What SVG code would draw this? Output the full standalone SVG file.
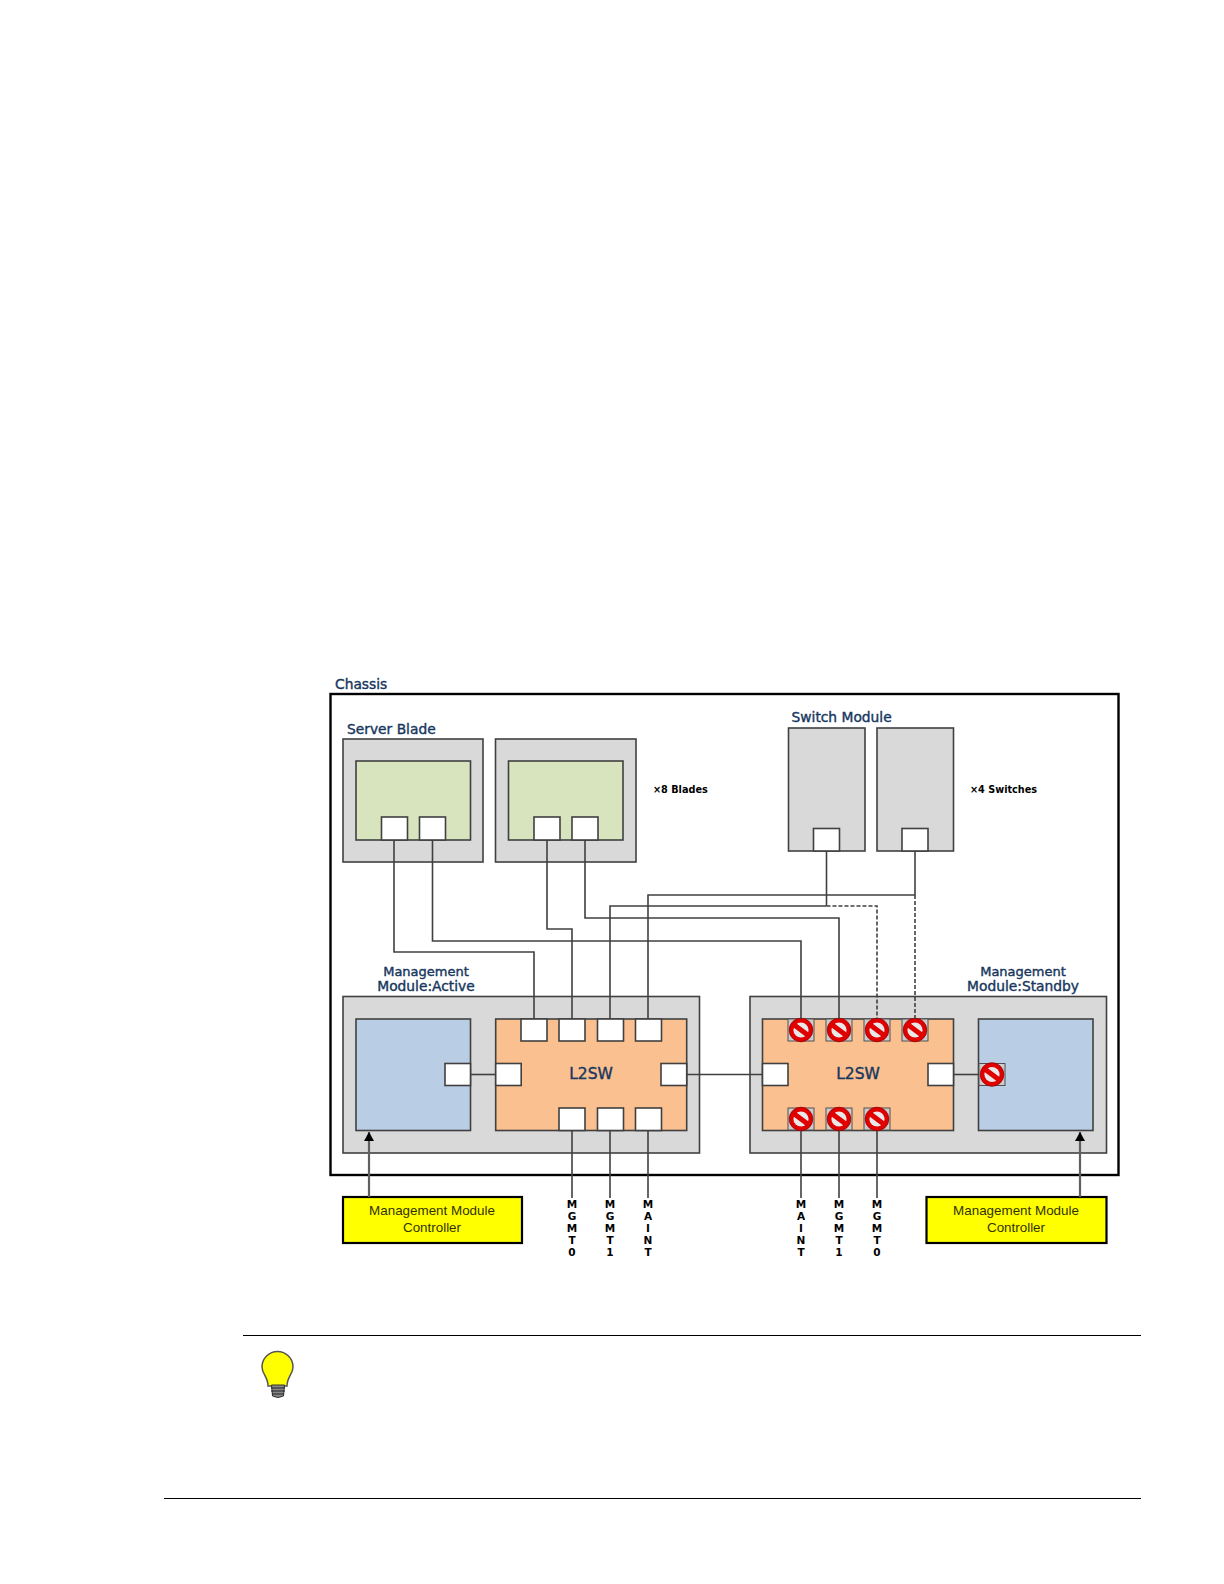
<svg xmlns="http://www.w3.org/2000/svg" xmlns:xlink="http://www.w3.org/1999/xlink" width="1224" height="1584" viewBox="0 0 1224 1584">
<style>
.box{stroke:#404040;stroke-width:1.6}
.gray{fill:#d9d9d9}
.green{fill:#d7e4bd}
.blue{fill:#b9cde5}
.orange{fill:#fac090}
.port{fill:#fff;stroke:#404040;stroke-width:1.6}
.yellow{fill:#ff0;stroke:#000;stroke-width:2.2}
.w{fill:none;stroke:#404040;stroke-width:1.6}
.d{fill:none;stroke:#404040;stroke-width:1.6;stroke-dasharray:4 2}
.t{font-family:"DejaVu Sans",sans-serif;font-size:13.8px;fill:#17375e;stroke:#17375e;stroke-width:.4}
.s{font-size:13px}
.l{font-size:15.5px}
.n{font-family:"DejaVu Sans",sans-serif;font-size:9.7px;font-weight:bold;fill:#000}
.v{font-family:"DejaVu Sans",sans-serif;font-size:10.5px;font-weight:bold;fill:#000;text-anchor:middle}
.y{font-family:"Liberation Sans",sans-serif;font-size:13.400px;fill:#333300;text-anchor:middle}
.m{text-anchor:middle}
</style>
<defs>
<g id="no">
<rect x="-13" y="-11" width="26" height="22" fill="#ccc" stroke="#505050" stroke-width="1"/>
<circle r="11.800" fill="#e00000" stroke="#900" stroke-width=".8"/>
<circle r="7.600" fill="#e8e8e8"/>
<path d="M-8-6 8 6" stroke="#e00000" stroke-width="5" fill="none"/>
</g>
<marker id="arr" markerWidth="10" markerHeight="10" refX="9" refY="5" orient="auto" markerUnits="userSpaceOnUse"><path d="M0 0L9 5L0 10Z" fill="#000"/></marker>
</defs>
<g id="chassis"><rect x="330.500" y="694" width="788" height="481" fill="#fff" stroke="#000" stroke-width="2.400"/><text class="t" x="335" y="689">Chassis</text></g>

<g id="blade1"><text class="t" x="347" y="734">Server Blade</text><rect class="box gray" x="343" y="739" width="140" height="123"/><rect class="box green" x="356" y="761" width="114.500" height="79"/><rect class="port" x="381.500" y="817" width="26" height="23"/><rect class="port" x="419.500" y="817" width="26" height="23"/></g>
<g id="blade2"><rect class="box gray" x="495.500" y="739" width="140.500" height="123"/><rect class="box green" x="508.500" y="761" width="114.500" height="79"/><rect class="port" x="534" y="817" width="26" height="23"/><rect class="port" x="572" y="817" width="26" height="23"/></g>
<g id="blades-note"><text class="n" x="653" y="793">×8 Blades</text></g>
<g id="switch1"><text class="t" x="791.500" y="722">Switch Module</text><rect class="box gray" x="788.500" y="728" width="76.500" height="123"/><rect class="port" x="813.500" y="828.500" width="26" height="22.500"/></g>
<g id="switch2"><rect class="box gray" x="877" y="728" width="76.500" height="123"/><rect class="port" x="902" y="828.500" width="26" height="22.500"/></g>
<g id="switches-note"><text class="n" x="970" y="793">×4 Switches</text></g>

<g id="mm-active">
<text class="t m s" x="426" y="976">Management</text><text class="t m" x="426" y="991">Module:Active</text>
<rect class="box gray" x="343" y="996.500" width="356.500" height="156.500"/>
<rect class="box blue" x="356" y="1019" width="114.500" height="111.500"/>
<rect class="port" x="445" y="1063.500" width="25.500" height="22"/>
<rect class="box orange" x="495.700" y="1019" width="191" height="111.500"/>
<rect class="port" x="521" y="1019" width="26" height="22"/><rect class="port" x="559" y="1019" width="26" height="22"/><rect class="port" x="597.500" y="1019" width="26" height="22"/><rect class="port" x="635.500" y="1019" width="26" height="22"/>
<rect class="port" x="495.700" y="1063.500" width="25.500" height="22"/><rect class="port" x="661" y="1063.500" width="25.700" height="22"/>
<rect class="port" x="559" y="1108" width="26" height="22.500"/><rect class="port" x="597.500" y="1108" width="26" height="22.500"/><rect class="port" x="635.500" y="1108" width="26" height="22.500"/>
<text class="t m l" x="591" y="1079">L2SW</text>
</g>
<g id="mm-standby">
<text class="t m s" x="1023" y="976">Management</text><text class="t m" x="1023" y="991">Module:Standby</text>
<rect class="box gray" x="750" y="996.500" width="356.500" height="156.500"/>
<rect class="box orange" x="762.500" y="1019" width="191" height="111.500"/>
<rect class="box blue" x="978.500" y="1019" width="114.500" height="111.500"/>
<rect class="port" x="762.500" y="1063.500" width="25.500" height="22"/><rect class="port" x="928" y="1063.500" width="25.500" height="22"/>
<use xlink:href="#no" href="#no" x="801" y="1030"/><use xlink:href="#no" href="#no" x="839" y="1030"/><use xlink:href="#no" href="#no" x="877" y="1030"/><use xlink:href="#no" href="#no" x="915" y="1030"/>
<use xlink:href="#no" href="#no" x="801" y="1119"/><use xlink:href="#no" href="#no" x="839" y="1119"/><use xlink:href="#no" href="#no" x="877" y="1119"/>
<use xlink:href="#no" href="#no" x="992" y="1074.500"/>
<text class="t m l" x="858" y="1079">L2SW</text>
</g>
<g id="controller-left"><rect class="yellow" x="343" y="1197" width="179" height="46"/><text class="y" x="432" y="1215">Management Module</text><text class="y" x="432" y="1232">Controller</text></g>
<g id="controller-right"><rect class="yellow" x="926.500" y="1197" width="180" height="46"/><text class="y" x="1016" y="1215">Management Module</text><text class="y" x="1016" y="1232">Controller</text></g>

<g id="connectors">
<path class="w" d="M394 840V952H534V1019"/>
<path class="w" d="M432.500 840V941H801V1019"/>
<path class="w" d="M547 840V929H572V1019"/>
<path class="w" d="M585 840V918H839V1019"/>
<path class="w" d="M610 1019V906H826.500"/>
<path class="w" d="M648 1019V895H915"/>
<path class="w" d="M826.500 851V906"/>
<path class="w" d="M915 851V895"/>
<path class="d" d="M826.500 906H877V1019"/>
<path class="d" d="M915 895V1019"/>
<path class="w" d="M470.500 1074.500H495.700"/>
<path class="w" d="M686.700 1074.500H762.500"/>
<path class="w" d="M953.500 1074.500H979"/>
<path class="w" d="M572 1130.500V1198"/><path class="w" d="M610 1130.500V1198"/><path class="w" d="M648 1130.500V1198"/>
<path class="w" d="M801 1130.500V1198"/><path class="w" d="M839 1130.500V1198"/><path class="w" d="M877 1130.500V1198"/>
<path class="w" d="M369 1197V1132" marker-end="url(#arr)" style="stroke:#606060;stroke-width:2.200"/>
<path class="w" d="M1080 1197V1132" marker-end="url(#arr)" style="stroke:#606060;stroke-width:2.200"/>
</g>

<g id="labels-left">
<text class="v"><tspan x="572" y="1208">M</tspan><tspan x="572" y="1220">G</tspan><tspan x="572" y="1232">M</tspan><tspan x="572" y="1244">T</tspan><tspan x="572" y="1256">0</tspan></text>
<text class="v"><tspan x="610" y="1208">M</tspan><tspan x="610" y="1220">G</tspan><tspan x="610" y="1232">M</tspan><tspan x="610" y="1244">T</tspan><tspan x="610" y="1256">1</tspan></text>
<text class="v"><tspan x="648" y="1208">M</tspan><tspan x="648" y="1220">A</tspan><tspan x="648" y="1232">I</tspan><tspan x="648" y="1244">N</tspan><tspan x="648" y="1256">T</tspan></text>
</g>
<g id="labels-right">
<text class="v"><tspan x="801" y="1208">M</tspan><tspan x="801" y="1220">A</tspan><tspan x="801" y="1232">I</tspan><tspan x="801" y="1244">N</tspan><tspan x="801" y="1256">T</tspan></text>
<text class="v"><tspan x="839" y="1208">M</tspan><tspan x="839" y="1220">G</tspan><tspan x="839" y="1232">M</tspan><tspan x="839" y="1244">T</tspan><tspan x="839" y="1256">1</tspan></text>
<text class="v"><tspan x="877" y="1208">M</tspan><tspan x="877" y="1220">G</tspan><tspan x="877" y="1232">M</tspan><tspan x="877" y="1244">T</tspan><tspan x="877" y="1256">0</tspan></text>
</g>

<g id="note-rule"><path d="M243 1335.500H1141" stroke="#000" stroke-width="1"/></g>
<g id="bulb">
<path d="M268 1386C268 1377 262 1374 262 1367A15.500 15.500 0 0 1 293 1367C293 1374 287 1377 287 1386Z" fill="#ff0" stroke="#555" stroke-width="1.500"/>
<path d="M271.500 1385H284.500L283.500 1396Q278 1399 272.500 1396Z" fill="#888" stroke="#333" stroke-width="1"/>
<path d="M271 1388H285M271 1391H285M272 1394H284" stroke="#222" stroke-width="1.200" fill="none"/>
</g>
<g id="footer-rule"><path d="M164 1498.500H1141" stroke="#000" stroke-width="1.200"/></g>
</svg>
